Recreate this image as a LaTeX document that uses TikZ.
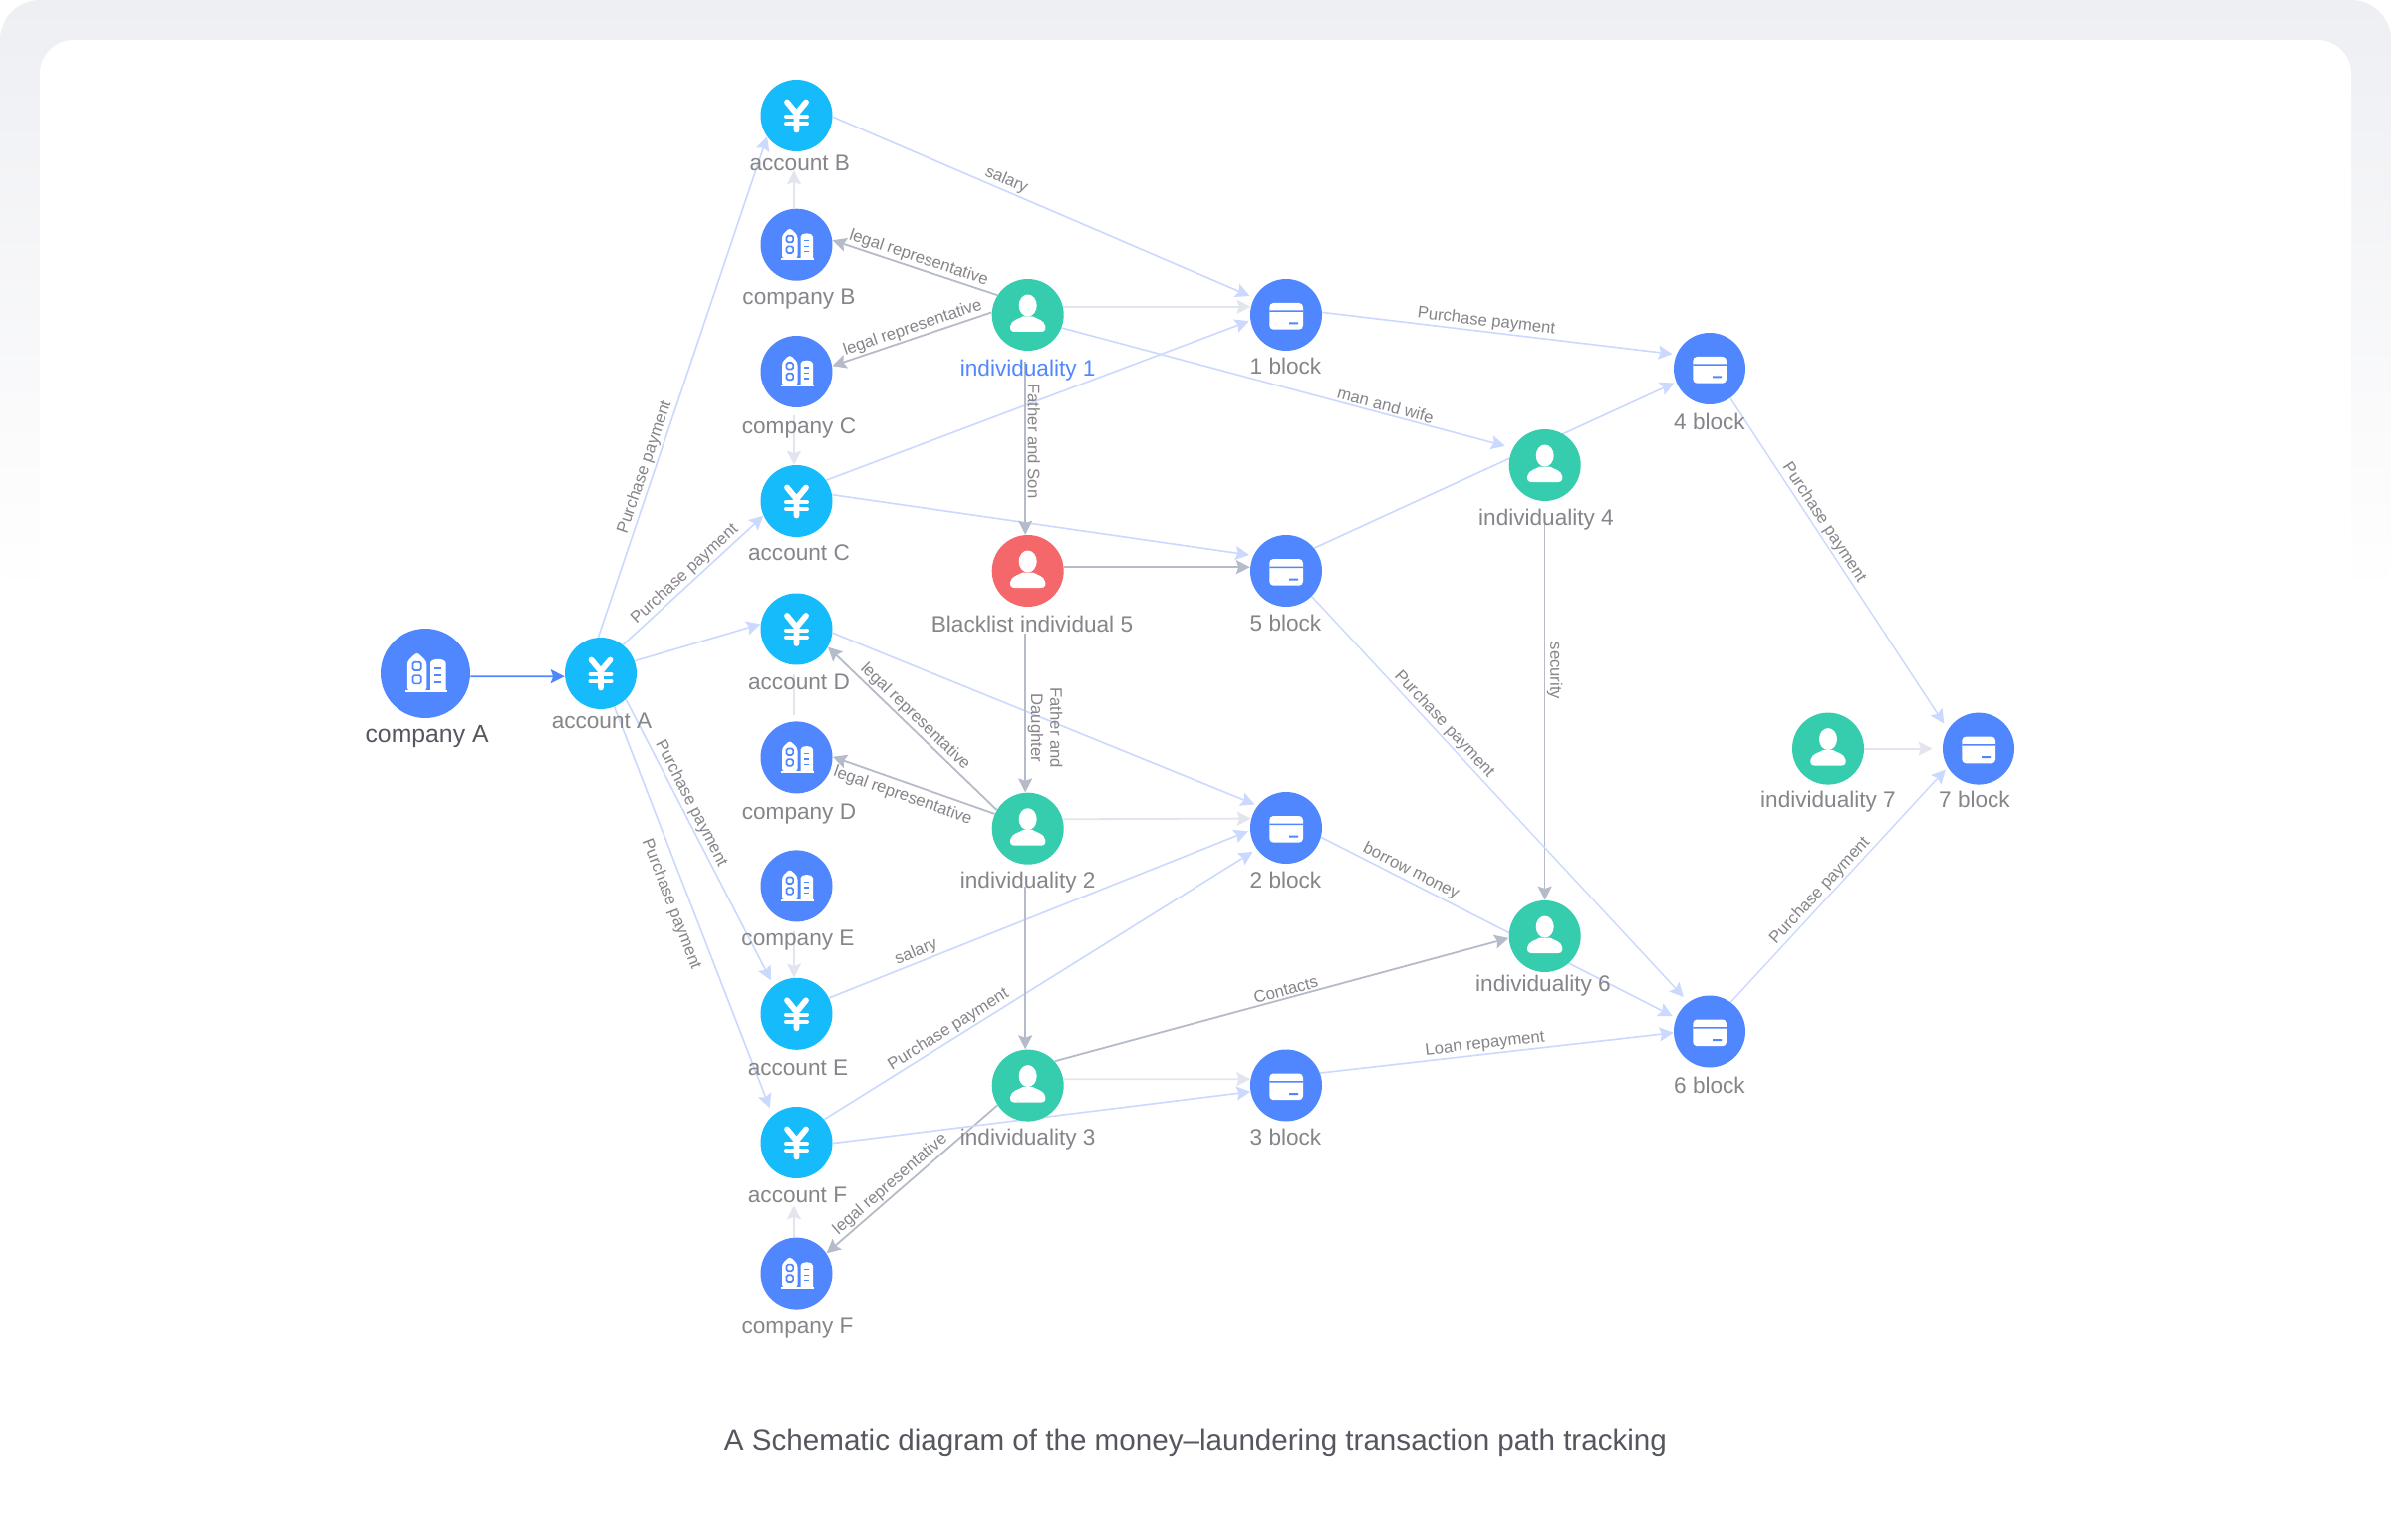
\documentclass[tikz,border=0pt]{standalone}
\usepackage{fontspec}
\setmainfont{Liberation Sans}
\usetikzlibrary{arrows.meta,backgrounds}
\definecolor{compblue}{HTML}{5087FF}
\definecolor{acctblue}{HTML}{15BBFB}
\definecolor{persongreen}{HTML}{36CDAE}
\definecolor{blackred}{HTML}{F4686B}
\definecolor{paycol}{HTML}{CBD9FF}
\definecolor{relcol}{HTML}{B6BBCA}
\definecolor{linkcol}{HTML}{E3E5EE}
\definecolor{panelcol}{HTML}{EEEFF3}
\definecolor{labelcol}{HTML}{85858B}
\definecolor{darktext}{HTML}{55575F}

\begin{document}
\begin{tikzpicture}[
        x=0.5pt,
        y=-0.5pt,
        >={Stealth[length=7pt,width=7pt,inset=1.2pt]},
        yenicon/.pic={
                \draw[white,line cap=round,line join=round,line width=2.9pt] (-9.5,-13.5) -- (0,-2) -- (9.5,-13.5) (0,-2) -- (0,14.5);
                \draw[white,line cap=round,line width=2pt] (-10.5,1) -- (10.5,1) (-10.5,8) -- (10.5,8);
            },
        personicon/.pic={
                \fill[white] (0,-9.5) ellipse [x radius=9, y radius=11];
                \fill[white] (-13,17) .. controls (-17.5,17) and (-18,14) .. (-17.5,11) .. controls (-16.5,5) and (-9,4) .. (-5,1.5) -- (5,1.5) .. controls (9,4) and (16.5,5) .. (17.5,11) .. controls (18,14) and (17.5,17) .. (13,17) -- cycle;
            },
        buildicon/.pic={
                \fill[white,rounded corners=1.5pt] (-14.5,14) -- (-14.5,-9.5) -- (-6.7,-17) -- (1,-9.5) -- (1,14) -- cycle;
                \fill[white] (4,14) -- (4,-8) .. controls (4,-12.5) and (16.5,-12.5) .. (16.5,-8) -- (16.5,14) -- cycle;
                \draw[white,line width=1pt] (-16,14.5) -- (17.3,14.5);
                \draw[compblue,line width=.85pt,rounded corners=.8pt] (-10,-9) rectangle (-3.4,-2.4) (-10,1.7) rectangle (-3.4,8.3);
                \draw[compblue,line width=.8pt] (7.5,-4) -- (12.5,-4) (7.5,1.7) -- (12.5,1.7) (7.5,7) -- (12.5,7);
            },
        cardicon/.pic={
                \fill[white,rounded corners=2pt] (-16.7,-12) rectangle (17,14.7);
                \fill[compblue] (-16.7,-4.5) rectangle (17,-3) (3,7.5) rectangle (12,9.5);
            },
        ent/.style={circle,minimum size=36pt,inner sep=0pt},
        acct/.style={ent,fill=acctblue,path picture={\pic at (path picture bounding box.center) {yenicon};}},
        comp/.style={ent,fill=compblue,path picture={\pic at (path picture bounding box.center) {buildicon};}},
        bigcomp/.style={ent,minimum size=45pt,fill=compblue,path picture={\pic[scale=1.25] at (path picture bounding box.center) {buildicon};}},
        person/.style={ent,fill=persongreen,path picture={\pic at (path picture bounding box.center) {personicon};}},
        blacklisted/.style={ent,fill=blackred,path picture={\pic at (path picture bounding box.center) {personicon};}},
        block/.style={ent,fill=compblue,path picture={\pic at (path picture bounding box.center) {cardicon};}},
        entname/.style={text=labelcol,font=\fontsize{11.3}{13}\selectfont,inner sep=0pt},
        elbl/.style={sloped,above,text=labelcol,font=\fontsize{8.35}{9.6}\selectfont,inner sep=.8pt,align=center},
        payline/.style={->,paycol,line width=.8pt},
        relline/.style={->,relcol,line width=.9pt},
        linkline/.style={->,linkcol,line width=.9pt}
    ]
    \useasboundingbox (0,0) rectangle (2400,1546);

    % entities
    \node[bigcomp] (compA) at (427,676) {};
    \node[acct] (accA) at (603,676) {};
    \node[acct] (accB) at (799.5,116) {};
    \node[comp] (compB) at (799.5,245.7) {};
    \node[comp] (compC) at (799.5,373) {};
    \node[acct] (accC) at (799.5,503) {};
    \node[acct] (accD) at (799.5,631.5) {};
    \node[comp] (compD) at (799.5,760.4) {};
    \node[comp] (compE) at (799.5,889.4) {};
    \node[acct] (accE) at (799.5,1017.8) {};
    \node[acct] (accF) at (799.5,1147) {};
    \node[comp] (compF) at (799.5,1278.6) {};
    \node[person] (ind1) at (1031.7,316) {};
    \node[blacklisted] (ind5) at (1031.7,573) {};
    \node[person] (ind2) at (1031.7,831.7) {};
    \node[person] (ind3) at (1031.7,1089.6) {};
    \node[person] (ind4) at (1550.7,467) {};
    \node[person] (ind6) at (1550.7,940) {};
    \node[person] (ind7) at (1835,751.6) {};
    \node[block] (blk1) at (1291,316) {};
    \node[block] (blk5) at (1291,573) {};
    \node[block] (blk2) at (1291,831) {};
    \node[block] (blk3) at (1291,1089.5) {};
    \node[block] (blk4) at (1716,370) {};
    \node[block] (blk6) at (1716,1035.5) {};
    \node[block] (blk7) at (1986,751.6) {};

    % names under the entities
    \node[entname,text=darktext,font=\fontsize{12.4}{14}\selectfont] (compAl) at (428.6,740) {company A};
    \node[entname] (accAl) at (604,724) {account A};
    \node[entname] (accBl) at (802.8,164) {account B};
    \node[entname] (compBl) at (802,300) {company B};
    \node[entname] (compCl) at (802,430) {company C};
    \node[entname] (accCl) at (802,555) {account C};
    \node[entname] (accDl) at (802,685) {account D};
    \node[entname] (compDl) at (802,817) {company D};
    \node[entname] (compEl) at (801,944.5) {company E};
    \node[entname] (accEl) at (801,1072) {account E};
    \node[entname] (accFl) at (800.5,1199.5) {account F};
    \node[entname] (compFl) at (800.5,1333) {company F};
    \node[entname,text=compblue] (ind1l) at (1031.7,372) {individuality 1};
    \node[entname] (ind5l) at (1036,626) {Blacklist individual 5};
    \node[entname] (ind2l) at (1031.7,886) {individuality 2};
    \node[entname] (ind3l) at (1031.7,1144) {individuality 3};
    \node[entname] (ind4l) at (1552,522) {individuality 4};
    \node[entname] (ind6l) at (1549,990) {individuality 6};
    \node[entname] (ind7l) at (1835,805) {individuality 7};
    \node[entname] (blk1l) at (1290.5,367.5) {1 block};
    \node[entname] (blk5l) at (1290.5,625) {5 block};
    \node[entname] (blk2l) at (1290.5,883.5) {2 block};
    \node[entname] (blk3l) at (1290.5,1141.5) {3 block};
    \node[entname] (blk4l) at (1716,423) {4 block};
    \node[entname] (blk6l) at (1716,1089) {6 block};
    \node[entname] (blk7l) at (1982,802.5) {7 block};

    \node[text=darktext,font=\fontsize{14.8}{17}\selectfont,inner sep=0pt] (caption) at (1200,1449) {A Schematic diagram of the money--laundering transaction path tracking};

    \begin{scope}[on background layer]
        % panel
        \shade[rounded corners=20pt,top color=panelcol,middle color=linkcol,bottom color=white] (0,0) rectangle (2400,600);
        \fill[white,rounded corners=17pt] (40,40) rectangle (2360,1546);

        % connectors
        \draw[->,compblue,line width=.9pt] (compA.-4) -- (accA.185);
        \draw[payline] (accA.94) -- node[elbl,pos=.333] {Purchase payment} (accB.216);
        \draw[payline] (accA.52) -- node[elbl,pos=.49] {Purchase payment} (accC.204);
        \draw[payline] (accA.20) -- (accD.172);
        \draw[payline,shorten >=3pt] (accA.-46) -- node[elbl,pos=.38] {Purchase payment} (accE.129);
        \draw[payline,shorten >=4pt] (accA.-68) -- node[elbl,below,inner sep=5pt,pos=.467] {Purchase payment} (accF.131);

        \draw[linkline,shorten >=9.5pt] (compB.94) -- (accB.266);
        \draw[linkline,shorten <=4pt] (compC.266) -- (accC.94);
        \draw[linkline,-,shorten <=4.5pt,shorten >=3pt] (accD.266) -- (compD.94);
        \draw[linkline,shorten <=4.5pt] (compE.266) -- (accE.94);
        \draw[linkline,shorten >=13.5pt] (compF.94) -- (accF.266);

        \draw[relline] (ind1.147) -- node[elbl,pos=.497] {legal representative} (compB.7);
        \draw[relline] (ind1.176) -- node[elbl,pos=.474] {legal representative} (compC.9);
        \draw[relline] (ind2.149) -- node[elbl,pos=.526] {legal representative} (accD.-30);
        \draw[relline] (ind2.156) -- node[elbl,below,inner sep=2.5pt,pos=.54] {legal representative} (compD.1);
        \draw[relline] (ind3.213) -- node[elbl,pos=.587] {legal representative} (compF.34);

        \draw[linkline] (ind1.13) -- (blk1.167);
        \draw[linkline] (ind2.15) -- (blk2.165);
        \draw[linkline] (ind3.10) -- (blk3.170);
        \draw[linkline,shorten >=5pt] (ind7.0) -- (blk7.180);

        \draw[payline,shorten >=2.4pt] (accB.-2) -- node[elbl,pos=.403] {salary} (blk1.152);
        \draw[payline,shorten >=4pt] (ind1.-21) -- node[elbl,pos=.713] {man and wife} (ind4.152);
        \draw[payline,shorten >=.7pt] (accC.35) -- (blk1.189);
        \draw[payline,shorten >=2pt] (accC.10) -- (blk5.155);
        \draw[payline,shorten >=1.5pt] (accD.-6) -- (blk2.142);
        \draw[payline,shorten >=1pt] (accE.26) -- node[elbl,pos=.216] {salary} (blk2.184);
        \draw[payline,shorten >=2.4pt] (accF.40) -- node[elbl,pos=.3] {Purchase payment} (blk2.216);
        \draw[payline] (accF.-1) -- (blk3.190);

        \draw[relline,shorten <=5.5pt] (ind1.266) -- node[elbl,pos=.492] {Father and Son} (ind5.94);
        \draw[relline,shorten <=13.5pt] (ind5.266) -- node[elbl,pos=.653] {Father and\\Daughter} (ind2.94);
        \draw[relline,shorten <=11pt] (ind2.266) -- (ind3.94);
        \draw[relline] (ind5.6) -- (blk5.174);
        \draw[relline] (ind3.42) -- node[elbl,pos=.514] {Contacts} (ind6.183);
        \draw[relline,line width=.7pt,shorten <=10pt] (ind4.270) -- node[elbl,pos=.425] {security} (ind6.90);

        \draw[payline,shorten >=2pt] (blk1.4) -- node[elbl,pos=.46] {Purchase payment} (blk4.157);
        \draw[payline,shorten >=1pt] (blk5.39) -- (blk4.202);
        \draw[payline,line width=.7pt,shorten >=3.5pt] (blk5.-45) -- node[elbl,pos=.332] {Purchase payment} (blk6.126);
        \draw[payline,shorten >=2pt] (blk2.-15) -- node[elbl,pos=.24] {borrow money} (blk6.158);
        \draw[payline] (blk3.20) -- node[elbl,pos=.47] {Loan repayment} (blk6.182);
        \draw[payline,line width=.7pt,shorten >=3.5pt] (blk4.-55) -- node[elbl,pos=.392] {Purchase payment} (blk7.148);
        \draw[payline,line width=.7pt,shorten >=1.5pt] (blk6.54) -- node[elbl,pos=.446] {Purchase payment} (blk7.211);
    \end{scope}
\end{tikzpicture}
\end{document}
